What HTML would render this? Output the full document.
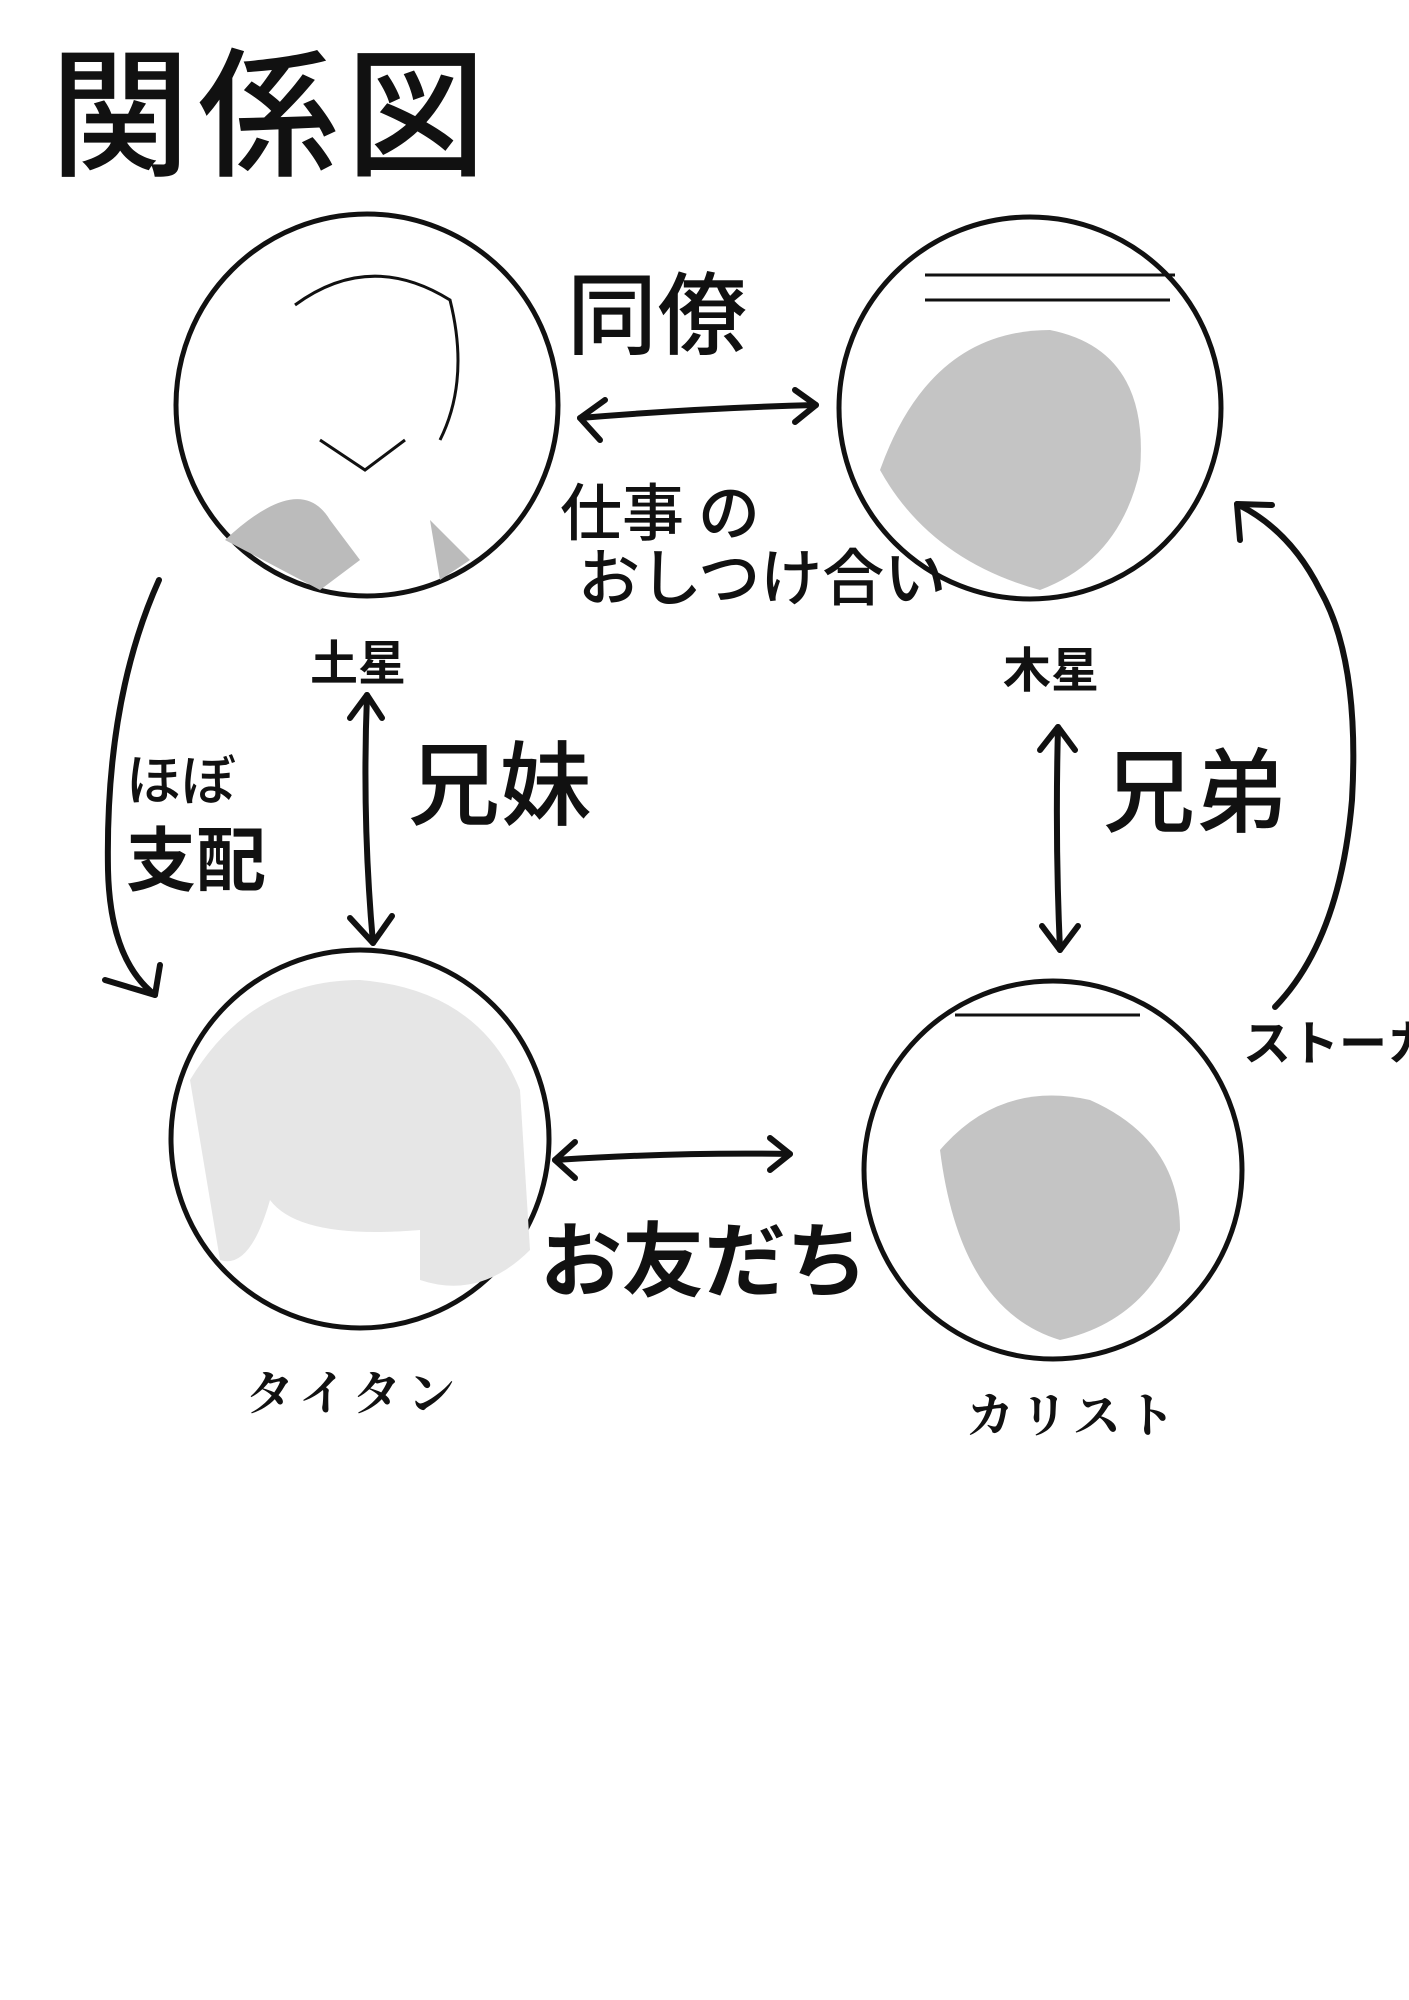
<!DOCTYPE html>
<html><head><meta charset="utf-8"><style>
html,body{margin:0;padding:0;background:#fff}
svg{display:block}
text{font-family:"Liberation Sans","Noto Sans CJK JP",sans-serif;fill:#111}
</style></head><body>
<svg width="1409" height="2000" viewBox="0 0 1409 2000" xmlns="http://www.w3.org/2000/svg">
<rect width="1409" height="2000" fill="#fff"/>
<text x="50" y="165" font-size="140" font-weight="500" letter-spacing="8" style="font-family:'Noto Sans CJK JP',sans-serif">関係図</text>
<g stroke="#111" stroke-width="5" fill="#fff">
<circle cx="367" cy="405" r="191"/>
<circle cx="1030" cy="408" r="191"/>
<circle cx="360" cy="1139" r="189"/>
<circle cx="1053" cy="1170" r="189"/>
</g>
<g fill="#cfcfcf" stroke="none">
<path d="M880 470 Q930 330 1050 330 Q1150 350 1140 470 Q1120 560 1040 590 Q930 560 880 470Z" fill="#c4c4c4"/>
<path d="M940 1150 Q1000 1080 1090 1100 Q1180 1140 1180 1230 Q1150 1320 1060 1340 Q960 1310 940 1150Z" fill="#c4c4c4"/>
<path d="M190 1080 Q250 980 360 980 Q480 990 520 1090 L530 1250 Q480 1300 420 1280 L420 1230 Q300 1240 270 1200 Q250 1270 220 1260 Z" fill="#e6e6e6"/>
<path d="M225 540 Q300 470 330 520 L360 560 L320 590 Z" fill="#bbb"/>
<path d="M430 520 L470 560 L440 580 Z" fill="#bbb"/>
</g>
<g stroke="#111" stroke-width="3" fill="none">
<path d="M295 305 Q370 250 450 300 Q470 380 440 440"/>
<path d="M320 440 L365 470 L405 440"/>
<path d="M925 275 L1175 275 M925 300 L1170 300"/>
<path d="M955 1015 L1140 1015"/>
</g>
<g stroke="#111" stroke-width="6" fill="none" stroke-linecap="round" stroke-linejoin="round">
<path d="M580 418 Q700 408 816 405"/><path d="M605 400 L580 418 L600 440"/><path d="M795 390 L816 405 L795 422"/>
<path d="M367 695 Q362 820 373 943"/><path d="M350 718 L367 695 L382 718"/><path d="M350 918 L373 943 L392 916"/>
<path d="M1058 727 Q1055 840 1060 950"/><path d="M1040 750 L1058 727 L1075 750"/><path d="M1042 926 L1060 950 L1078 926"/>
<path d="M555 1160 Q680 1152 790 1154"/><path d="M575 1142 L555 1160 L575 1178"/><path d="M770 1138 L790 1154 L770 1170"/>
<path d="M159 580 Q105 700 108 870 Q110 960 155 995"/><path d="M105 980 L155 995 L160 965"/>
<path d="M1275 1007 Q1340 940 1352 800 Q1360 660 1320 590 Q1290 530 1237 504"/><path d="M1240 540 L1237 504 L1272 505"/>
</g>
<text x="567" y="347" font-size="90" font-weight="500" style="font-family:'Noto Sans CJK JP',sans-serif">同僚</text>
<text x="560" y="535" font-size="62" font-weight="500" style="font-family:'Noto Sans CJK JP',sans-serif">仕事 の</text>
<text x="578" y="600" font-size="62" font-weight="500" style="font-family:'Noto Sans CJK JP',sans-serif">おしつけ合い</text>
<text x="408" y="818" font-size="92" font-weight="500" style="font-family:'Noto Sans CJK JP',sans-serif">兄妹</text>
<text x="1103" y="825" font-size="92" font-weight="500" style="font-family:'Noto Sans CJK JP',sans-serif">兄弟</text>
<text x="540" y="1290" font-size="82" font-weight="bold" style="font-family:'Noto Sans CJK JP',sans-serif">お友だち</text>
<text x="126" y="800" font-size="55" font-weight="500" style="font-family:'Noto Sans CJK JP',sans-serif">ほぼ</text>
<text x="126" y="885" font-size="70" font-weight="bold" style="font-family:'Noto Sans CJK JP',sans-serif">支配</text>
<text x="1243" y="1060" font-size="48" font-weight="bold" style="font-family:'Noto Sans CJK JP',sans-serif">ストーカー</text>
<text x="310" y="680" font-size="48" font-weight="bold" style="font-family:'Noto Sans CJK JP',sans-serif">土星</text>
<text x="1003" y="687" font-size="48" font-weight="bold" style="font-family:'Noto Sans CJK JP',sans-serif">木星</text>
<text x="246" y="1410" font-size="48" font-weight="bold" letter-spacing="6" style="font-family:'Noto Serif CJK SC',serif">タイタン</text>
<text x="966" y="1432" font-size="48" font-weight="bold" letter-spacing="6" style="font-family:'Noto Serif CJK SC',serif">カリスト</text>
</svg>
</body></html>
